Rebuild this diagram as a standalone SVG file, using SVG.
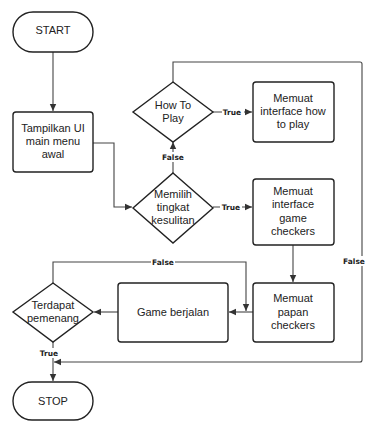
<svg xmlns="http://www.w3.org/2000/svg" width="367" height="421" viewBox="0 0 367 421">
<defs>
<marker id="ah" markerWidth="8" markerHeight="8" refX="7" refY="4" orient="auto" markerUnits="userSpaceOnUse">
<path d="M0,0.8 L7,4 L0,7.2 Z" fill="#333"/>
</marker>
<style>
.n{fill:#fff;stroke:#222;stroke-width:1.4}
.t{font-family:"Liberation Sans",Arial,sans-serif;font-size:11px;fill:#222;text-anchor:middle}
.c{fill:none;stroke:#444;stroke-width:1.1;marker-end:url(#ah)}
.l{font-family:"DejaVu Sans",sans-serif;font-size:7.5px;font-weight:bold;fill:#222;text-anchor:middle}
.lb{fill:#fff}
</style>
</defs>
<rect width="367" height="421" fill="#fff"/>
<g id="connectors">
<path class="c" d="M53,52 V111"/>
<path class="c" d="M93,143 H114 V207 H132"/>
<path class="c" d="M173,173 V142"/>
<path class="c" d="M213,112 H252"/>
<path class="c" d="M213,207 H252"/>
<path class="c" d="M293,245 V282"/>
<path class="c" d="M253,312 H229"/>
<path class="c" d="M118,312 H94"/>
<path class="c" d="M53,283 V262 H246 V311"/>
<path class="c" d="M53,342 V381"/>
<path class="c" d="M173,82 V62 H360 Q362,62 362,64 V360 Q362,362 360,362 H54"/>
<rect class="lb" x="222" y="107" width="22" height="10"/>
<text class="l" x="232" y="115">True</text>
<rect class="lb" x="220" y="202" width="22" height="10"/>
<text class="l" x="231" y="210">True</text>
<rect class="lb" x="161" y="152" width="24" height="10"/>
<text class="l" x="173" y="160">False</text>
<rect class="lb" x="151" y="257" width="24" height="10"/>
<text class="l" x="163" y="265">False</text>
<rect class="lb" x="38" y="348" width="22" height="10"/>
<text class="l" x="49" y="356">True</text>
<rect class="lb" x="342" y="256" width="25" height="10"/>
<text class="l" x="354" y="264">False</text>
</g>
<g id="start">
<rect class="n" x="13" y="12" width="80" height="40" rx="20"/>
<text class="t" x="53" y="34">START</text>
</g>
<g id="tampilkan">
<rect class="n" x="13" y="112" width="80" height="60" rx="3"/>
<text class="t" x="53" y="132">Tampilkan UI</text>
<text class="t" x="53" y="145">main menu</text>
<text class="t" x="53" y="158">awal</text>
</g>
<g id="howtoplay">
<polygon class="n" points="173,82 213,112 173,142 133,112"/>
<text class="t" x="173" y="109">How To</text>
<text class="t" x="173" y="122">Play</text>
</g>
<g id="memilih">
<polygon class="n" points="173,173 213,208 173,243 133,208"/>
<text class="t" x="173" y="198">Memilih</text>
<text class="t" x="173" y="211">tingkat</text>
<text class="t" x="173" y="224">kesulitan</text>
</g>
<g id="memuat-howtoplay">
<rect class="n" x="253" y="82" width="81" height="60" rx="3"/>
<text class="t" x="293" y="102">Memuat</text>
<text class="t" x="293" y="115">interface how</text>
<text class="t" x="293" y="128">to play</text>
</g>
<g id="memuat-interface">
<rect class="n" x="253" y="179" width="81" height="66" rx="3"/>
<text class="t" x="293" y="195">Memuat</text>
<text class="t" x="293" y="208">interface</text>
<text class="t" x="293" y="222">game</text>
<text class="t" x="293" y="235">checkers</text>
</g>
<g id="memuat-papan">
<rect class="n" x="253" y="283" width="81" height="59" rx="3"/>
<text class="t" x="293" y="302">Memuat</text>
<text class="t" x="293" y="316">papan</text>
<text class="t" x="293" y="329">checkers</text>
</g>
<g id="game">
<rect class="n" x="118" y="283" width="110" height="59" rx="3"/>
<text class="t" x="173" y="316">Game berjalan</text>
</g>
<g id="terdapat">
<polygon class="n" points="53,283 93,312 53,342 13,312"/>
<text class="t" x="53" y="309">Terdapat</text>
<text class="t" x="53" y="322">pemenang</text>
</g>
<g id="stop">
<rect class="n" x="13" y="382" width="80" height="38" rx="19"/>
<text class="t" x="53" y="405">STOP</text>
</g>
</svg>
